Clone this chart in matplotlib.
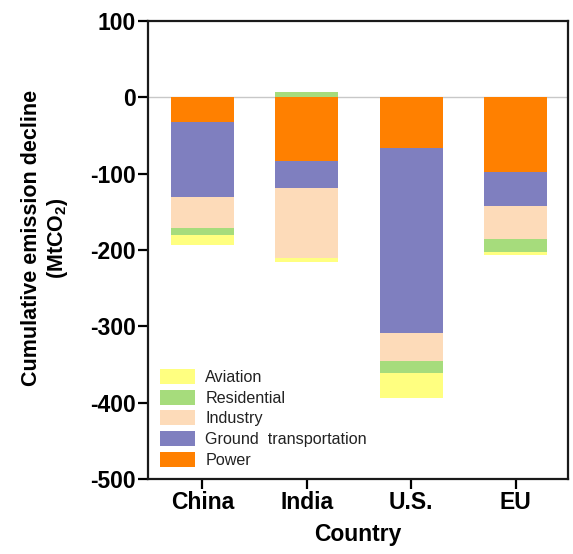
"""
Cumulative emission decline by country, stacked by sector.
"""

import matplotlib
matplotlib.use("Agg")
import matplotlib.pyplot as plt
import matplotlib.patches as mpatches
import numpy as np

plt.rcParams['font.family'] = ['Liberation Sans', 'DejaVu Sans']
plt.rcParams['mathtext.fontset'] = 'custom'
plt.rcParams['mathtext.bf'] = 'Liberation Sans:bold'
plt.rcParams['mathtext.rm'] = 'Liberation Sans:bold'
plt.rcParams['mathtext.default'] = 'bf'
plt.rcParams['axes.unicode_minus'] = False

# Dati (MtCO2)
countries = ["China", "India", "U.S.", "EU"]
sectors = ["Power", "Ground transportation", "Industry", "Residential", "Aviation"]
power = [-32, -84, -67, -98]
ground = [-99, -35, -242, -44]
industry = [-40, -92, -37, -44]
residential = [-10, 7, -15, -16]
aviation = [-12, -5, -33, -5]

colors = {
    "Power": "#ff8000",
    "Ground transportation": "#7f7fbf",
    "Industry": "#fddbb9",
    "Residential": "#a6dc7c",
    "Aviation": "#ffff80",
}

values = {
    "Power": power,
    "Ground transportation": ground,
    "Industry": industry,
    "Residential": residential,
    "Aviation": aviation,
}

fig = plt.figure(figsize=(5.73, 5.54), dpi=100)
ax = fig.add_axes([0.2583, 0.1354, 0.733, 0.8267])

x = np.arange(len(countries))
neg_bottom = np.zeros(len(countries))
pos_bottom = np.zeros(len(countries))

# Zero line sotto le barre
ax.axhline(0, color='#c8c8c8', linewidth=1.0, zorder=1)

for s in sectors:
    vals = np.array(values[s], dtype=float)
    bottoms = np.where(vals < 0, neg_bottom, pos_bottom)
    ax.bar(x, vals, width=0.6, bottom=bottoms, color=colors[s], linewidth=0, zorder=2)
    neg_bottom = neg_bottom + np.where(vals < 0, vals, 0)
    pos_bottom = pos_bottom + np.where(vals > 0, vals, 0)

ax.set_xlim(-0.52, 3.5)
ax.set_ylim(-500, 100)
ax.set_yticks(np.arange(-500, 101, 100))
ax.set_xticks(x)
ax.set_xticklabels(countries)

for sp in ax.spines.values():
    sp.set_linewidth(1.6)
    sp.set_color('#1a1a1a')

ax.tick_params(axis='both', direction='out', length=7, width=1.6, labelsize=16.5, pad=2)
for lab in ax.get_xticklabels() + ax.get_yticklabels():
    lab.set_fontweight('bold')

ax.set_xlabel('Country', fontsize=16.5, fontweight='bold', labelpad=6)
ax.set_ylabel('Cumulative emission decline\n(MtCO$_2$)', fontsize=15.5, fontweight='bold',
              linespacing=1.2)
ax.yaxis.set_label_coords(-0.185, 0.526)

# Legenda (ordine inverso rispetto allo stacking)
legend_order = ["Aviation", "Residential", "Industry", "Ground transportation", "Power"]
legend_labels = ["Aviation", "Residential", "Industry", "Ground  transportation", "Power"]
handles = [mpatches.Patch(color=colors[s], linewidth=0) for s in legend_order]
ax.legend(handles, legend_labels, loc='lower left', bbox_to_anchor=(0.028, 0.025),
          frameon=False, fontsize=11.6, handlelength=2.2, handleheight=1.05,
          labelspacing=0.29, handletextpad=0.62, borderpad=0, borderaxespad=0,
          labelcolor='#222222')

plt.savefig('out.png', dpi=100)
plt.close(fig)
